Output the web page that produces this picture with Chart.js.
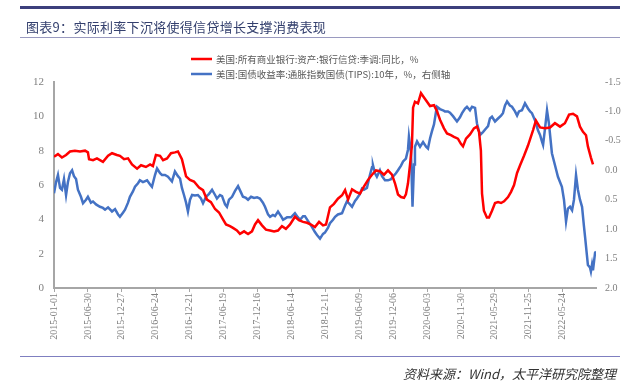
<!DOCTYPE html>
<html>
<head>
<meta charset="utf-8">
<script src="https://cdn.jsdelivr.net/npm/chart.js@4.4.1/dist/chart.umd.min.js"></script>
<style>
  html, body { margin: 0; padding: 0; background: #fff; }
  #page { position: relative; width: 632px; height: 384px; overflow: hidden; }
  #chartBox { position: absolute; left: 0; top: 0; width: 632px; height: 384px; }
  .rule { position: absolute; left: 20px; width: 600px; }
  #topRule { top: 6px; height: 3px; background: #3c3f7c; }
  #titleRule { top: 37px; height: 1px; background: #9a9ac0; }
  #bottomRule { top: 356px; height: 1px; background: #7f7fc0; }
  #title { position: absolute; left: 26px; top: 17px; font: 13px "Noto Sans CJK SC"; color: #34406e; letter-spacing: 0.3px; }
  #source { position: absolute; right: 16px; top: 364px; font: italic 13px "Noto Sans CJK SC"; color: #333; }
</style>
</head>
<body>
<div id="page">
  <div id="chartBox"><canvas id="c"></canvas></div>
  <div class="rule" id="topRule"></div>
  <div id="title">图表9：实际利率下沉将使得信贷增长支撑消费表现</div>
  <div class="rule" id="titleRule"></div>
  <div class="rule" id="bottomRule"></div>
  <div id="source">资料来源：Wind，太平洋研究院整理</div>
</div>
<script>
// x values are days since 2015-01-01
const startDate = '2015-01-01';
const tickLabels = ['2015-01-01','2015-06-30','2015-12-27','2016-06-24','2016-12-21','2017-06-19',
  '2017-12-16','2018-06-14','2018-12-11','2019-06-09','2019-12-06','2020-06-03',
  '2020-11-30','2021-05-29','2021-11-25','2022-05-24'];

const creditLabel = '美国:所有商业银行:资产:银行信贷:季调:同比，%';
const creditDays = [0,21,42,64,85,111,138,165,180,186,207,228,260,287,308,334,350,372,393,414,441,462,488,510,525,
  541,563,579,600,621,642,658,679,701,722,743,770,791,812,833,855,876,897,913,934,950,971,987,1009,1030,1051,1067,
  1083,1104,1125,1147,1168,1189,1210,1231,1253,1279,1300,1322,1343,1364,1385,1407,1428,1444,1465,1486,1507,1529,
  1545,1561,1582,1603,1624,1645,1667,1688,1709,1730,1752,1773,1794,1810,1826,1842,1858,1868,1879,1890,1900,1906,
  1916,1932,1948,1964,1980,1996,2017,2033,2049,2070,2086,2107,2123,2144,2160,2171,2187,2208,2229,2245,2256,2266,
  2272,2282,2298,2309,2325,2341,2357,2373,2389,2410,2426,2442,2458,2474,2495,2516,2543,2558,2580,2606,2633,2659,
  2686,2712,2734,2755,2776,2792,2808,2824,2834,2850,2861];
const creditValues = [7.65,7.8,7.6,7.75,7.95,8.0,7.95,8.0,7.9,7.5,7.45,7.55,7.35,7.7,7.85,7.75,7.7,7.5,7.55,7.2,6.95,
  7.15,7.05,7.2,7.1,7.75,7.7,7.45,7.55,7.85,7.9,7.95,7.5,6.5,6.3,6.2,5.85,5.7,5.15,5.0,4.6,4.4,4.0,3.7,3.6,3.5,3.35,
  3.15,3.3,3.15,3.3,3.7,3.95,3.65,3.4,3.35,3.3,3.35,3.6,3.45,3.7,4.15,3.95,3.85,3.8,3.7,3.55,3.85,3.65,3.7,4.7,4.9,
  5.2,5.4,5.7,5.15,5.75,5.6,5.5,5.9,6.3,6.6,6.85,6.8,6.6,6.85,6.6,6.1,5.45,5.3,5.25,5.45,6.1,7.2,8.3,10.5,10.85,
  10.75,11.35,11.1,10.85,10.6,10.65,10.3,9.8,9.3,9.0,8.9,8.8,8.7,8.4,8.25,8.7,8.95,9.3,9.4,9.1,8.0,5.5,4.5,4.1,4.1,
  4.5,4.95,5.0,4.95,5.05,5.3,5.6,6.0,6.7,7.15,7.7,8.3,9.2,9.75,9.35,9.3,9.35,9.6,9.4,9.6,10.1,10.15,10.0,9.4,9.1,
  8.9,8.25,7.6,7.2];

const tipsLabel = '美国:国债收益率:通胀指数国债(TIPS):10年，%，右侧轴';
const tipsDays = [0,11,21,32,42,53,64,74,85,96,106,117,127,143,154,170,180,196,207,223,244,260,271,287,308,324,340,
  350,366,377,393,403,419,430,446,456,472,494,510,520,536,547,563,573,589,605,626,642,658,669,679,690,701,711,722,
  733,748,764,780,791,807,823,839,855,865,881,892,908,918,929,945,961,977,993,1003,1019,1030,1046,1062,1078,1093,
  1109,1120,1136,1147,1162,1173,1189,1205,1216,1237,1258,1279,1295,1306,1322,1332,1348,1369,1385,1396,1412,1428,
  1438,1454,1465,1481,1492,1507,1529,1545,1555,1571,1582,1598,1608,1624,1635,1645,1661,1677,1688,1693,1704,1714,
  1730,1741,1757,1773,1789,1799,1815,1826,1842,1853,1868,1879,1884,1895,1903,1911,1916,1927,1943,1959,1975,1985,
  1996,2006,2017,2028,2033,2049,2065,2075,2091,2102,2118,2139,2155,2166,2182,2192,2208,2219,2235,2245,2261,2277,
  2293,2304,2314,2325,2341,2357,2373,2383,2394,2405,2420,2431,2447,2458,2468,2484,2500,2516,2527,2537,2553,2569,
  2580,2590,2596,2606,2617,2627,2643,2659,2675,2696,2707,2718,2728,2739,2750,2760,2771,2781,2792,2803,2813,2819,
  2829,2834,2845,2850,2856,2861,2872,2877];
const tipsValues = [0.39,0.2,0.08,0.3,0.33,0.15,0.42,0.2,0.05,0.0,0.1,0.15,0.33,0.45,0.56,0.5,0.45,0.55,0.53,0.58,
  0.62,0.64,0.67,0.63,0.7,0.66,0.75,0.79,0.72,0.67,0.55,0.45,0.36,0.28,0.22,0.17,0.2,0.17,0.24,0.28,0.08,-0.03,0.05,
  0.08,0.08,0.11,0.19,0.02,0.1,0.14,0.3,0.42,0.55,0.7,0.5,0.42,0.43,0.42,0.48,0.56,0.45,0.4,0.33,0.42,0.48,0.42,0.44,
  0.58,0.62,0.5,0.45,0.35,0.27,0.38,0.45,0.47,0.5,0.45,0.47,0.46,0.48,0.55,0.62,0.75,0.79,0.76,0.78,0.7,0.78,0.84,
  0.8,0.8,0.73,0.8,0.84,0.78,0.78,0.86,0.96,1.05,1.1,1.16,1.08,1.06,0.98,0.9,0.84,0.79,0.75,0.73,0.6,0.53,0.58,0.62,
  0.52,0.48,0.4,0.31,0.33,0.3,0.08,-0.05,-0.09,0.05,0.11,0.0,0.1,0.17,0.17,0.15,0.11,0.05,0.0,-0.08,-0.15,-0.2,
  -0.35,-0.57,-0.3,0.62,-0.1,-0.4,-0.49,-0.4,-0.48,-0.4,-0.37,-0.54,-0.66,-0.78,-1.0,-1.08,-1.04,-1.02,-1.0,-1.0,
  -0.98,-0.92,-0.83,-0.9,-0.97,-1.05,-1.08,-1.02,-1.08,-1.06,-0.8,-0.6,-0.65,-0.71,-0.75,-0.88,-0.91,-0.83,-0.88,
  -0.93,-0.97,-1.1,-1.17,-1.1,-1.08,-1.0,-0.93,-1.0,-1.02,-1.14,-1.05,-1.0,-0.97,-0.85,-0.68,-0.6,-0.49,-0.43,-0.7,
  -1.02,-0.8,-0.29,-0.09,0.11,0.28,0.5,0.87,0.65,0.62,0.68,0.5,0.08,0.33,0.5,0.62,0.95,1.13,1.45,1.61,1.65,1.72,
  1.6,1.7,1.4,1.38];

function dayOf(s) {
  const [y, m, d] = s.split('-').map(Number);
  const [y0, m0, d0] = startDate.split('-').map(Number);
  return Math.round((Date.UTC(y, m - 1, d) - Date.UTC(y0, m0 - 1, d0)) / 86400000);
}
const tickDays = tickLabels.map(dayOf);

const axisGray = '#a6a6a6';
const textGray = '#7f7f7f';
const numFont = { family: '"Liberation Serif", "Times New Roman", serif', size: 10 };

// legend drawn at the top right of the plot, as in the report
const legendPlugin = {
  id: 'topLegend',
  afterDraw(chart) {
    const ctx = chart.ctx;
    ctx.save();
    ctx.font = '9.5px "Noto Sans CJK SC"';
    ctx.textBaseline = 'middle';
    chart.data.datasets.forEach((ds, i) => {
      const y = 59 + i * 15;
      ctx.strokeStyle = ds.borderColor;
      ctx.lineWidth = 2.5;
      ctx.beginPath();
      ctx.moveTo(191, y);
      ctx.lineTo(212, y);
      ctx.stroke();
      ctx.fillStyle = '#595959';
      ctx.fillText(ds.label, 216, y);
    });
    ctx.restore();
  }
};

new Chart(document.getElementById('c'), {
  type: 'line',
  data: {
    datasets: [
      {
        label: creditLabel,
        data: creditDays.map((d, i) => ({ x: d, y: creditValues[i] })),
        borderColor: '#ff0000',
        backgroundColor: '#ff0000',
        borderWidth: 2.5,
        pointRadius: 0,
        yAxisID: 'y'
      },
      {
        label: tipsLabel,
        data: tipsDays.map((d, i) => ({ x: d, y: tipsValues[i] })),
        borderColor: '#4472c4',
        backgroundColor: '#4472c4',
        borderWidth: 2.5,
        pointRadius: 0,
        yAxisID: 'y1'
      }
    ]
  },
  options: {
    responsive: true,
    maintainAspectRatio: false,
    animation: false,
    layout: { padding: { top: 82, left: 0, right: 0, bottom: 0 } },
    plugins: { legend: { display: false }, tooltip: { enabled: false } },
    scales: {
      x: {
        type: 'linear',
        min: 0,
        max: 2877,
        afterBuildTicks: s => { s.ticks = tickDays.map(v => ({ value: v })); },
        afterFit: s => { s.height = 96; },
        ticks: {
          autoSkip: false,
          minRotation: 90,
          maxRotation: 90,
          padding: 1,
          color: textGray,
          font: numFont,
          callback: (v, i) => tickLabels[i]
        },
        grid: { display: true, drawOnChartArea: false, drawTicks: true, tickLength: 4, color: axisGray },
        border: { display: true, color: axisGray, width: 2 }
      },
      y: {
        position: 'left',
        min: 0,
        max: 12,
        afterFit: s => { s.width = 54; },
        ticks: { stepSize: 2, padding: 10, color: textGray, font: { ...numFont, size: 11 } },
        grid: { display: false, drawTicks: false },
        border: { display: true, color: axisGray, width: 2 }
      },
      y1: {
        position: 'right',
        reverse: true,
        min: -1.5,
        max: 2.0,
        afterFit: s => { s.width = 36; },
        ticks: { stepSize: 0.5, padding: 9, color: textGray, font: numFont, callback: v => v.toFixed(1) },
        grid: { display: false, drawTicks: false },
        border: { display: false }
      }
    }
  },
  plugins: [legendPlugin]
});
</script>
</body>
</html>
